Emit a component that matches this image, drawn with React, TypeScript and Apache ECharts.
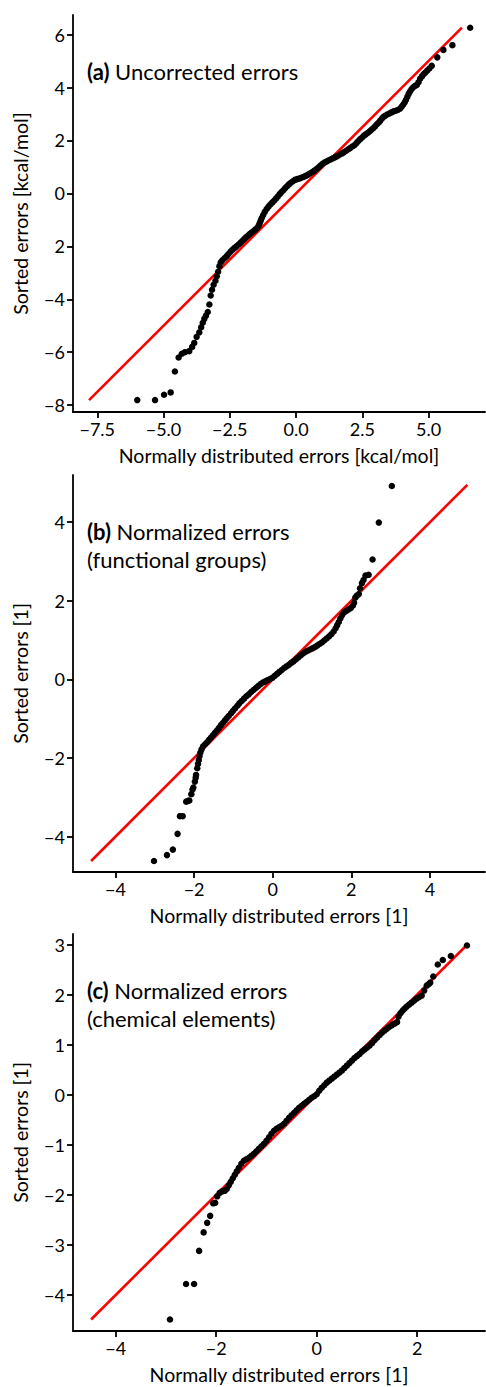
import React, { useEffect, useRef } from "react";
import * as echarts from "echarts";

// (a) uncorrected errors: theoretical normal quantiles vs. sorted errors [kcal/mol]
const theoA = [
  -5.99, -5.32, -4.98, -4.73, -4.57, -4.43, -4.31, -4.19, -4.03, -3.92, -3.84, -3.75, -3.65, -3.58,
  -3.52, -3.46, -3.4, -3.33, -3.27, -3.22, -3.17, -3.11, -3.04, -2.99, -2.94, -2.89, -2.84,
  -2.78, -2.7, -2.62, -2.55, -2.47, -2.4, -2.33, -2.26, -2.18, -2.1, -2.03, -1.96, -1.89, -1.82,
  -1.75, -1.68, -1.61, -1.54, -1.47, -1.41, -1.37, -1.33, -1.29, -1.24, -1.18, -1.11, -1.04,
  -0.97, -0.9, -0.83, -0.76, -0.69, -0.62, -0.55, -0.48, -0.41, -0.34, -0.27, -0.2, -0.12, -0.04,
  0.04, 0.12, 0.2, 0.28, 0.36, 0.44, 0.52, 0.6, 0.68, 0.76, 0.84, 0.92, 1.0, 1.08, 1.16, 1.24,
  1.32, 1.4, 1.48, 1.56, 1.64, 1.72, 1.8, 1.88, 1.96, 2.04, 2.12, 2.2, 2.28, 2.35, 2.42, 2.49,
  2.56, 2.63, 2.7, 2.77, 2.84, 2.91, 2.98, 3.05, 3.12, 3.18, 3.24, 3.3, 3.36, 3.44, 3.52, 3.6,
  3.68, 3.76, 3.84, 3.92, 3.98, 4.04, 4.1, 4.15, 4.2, 4.25, 4.3, 4.36, 4.42, 4.49, 4.56,
  4.62, 4.68, 4.75, 4.81, 4.87, 4.95, 5.03, 5.12, 5.33, 5.56, 5.9, 6.57,
];
const sortedA = [
  -7.81, -7.81, -7.61, -7.52, -6.73, -6.2, -6.06, -6.0, -5.96, -5.8, -5.65, -5.42, -5.25, -5.06,
  -4.89, -4.74, -4.62, -4.48, -4.2, -3.86, -3.64, -3.45, -3.3, -3.13, -2.96, -2.75, -2.6,
  -2.53, -2.45, -2.38, -2.29, -2.2, -2.13, -2.07, -2.01, -1.94, -1.87, -1.8, -1.73, -1.66, -1.6,
  -1.54, -1.48, -1.43, -1.37, -1.31, -1.22, -1.12, -1.02, -0.92, -0.82, -0.7, -0.59, -0.5,
  -0.42, -0.35, -0.28, -0.2, -0.12, -0.03, 0.05, 0.12, 0.2, 0.27, 0.34, 0.4, 0.46, 0.51,
  0.54, 0.56, 0.59, 0.62, 0.66, 0.7, 0.75, 0.8, 0.85, 0.91, 0.98, 1.05, 1.12, 1.17, 1.21, 1.25,
  1.29, 1.33, 1.37, 1.41, 1.46, 1.5, 1.55, 1.6, 1.66, 1.71, 1.77, 1.82, 1.9, 1.98, 2.05, 2.11,
  2.18, 2.23, 2.28, 2.34, 2.4, 2.46, 2.53, 2.61, 2.68, 2.75, 2.83, 2.89, 2.93, 2.98, 3.02, 3.06,
  3.1, 3.12, 3.15, 3.2, 3.27, 3.35, 3.44, 3.54, 3.65, 3.76, 3.85, 3.94, 4.01, 4.06, 4.1,
  4.2, 4.33, 4.42, 4.5, 4.56, 4.64, 4.72, 4.82, 5.14, 5.42, 5.6, 6.26,
];

// (b) errors normalized per functional group
const theoB = [
  -3.02, -2.69, -2.54, -2.42, -2.36, -2.29, -2.2, -2.15, -2.12, -2.07, -2.04, -2.02, -1.98, -1.96,
  -1.95, -1.92, -1.9, -1.88, -1.86, -1.84, -1.81,
  -1.77, -1.72, -1.67, -1.62, -1.57, -1.52, -1.47, -1.42, -1.37, -1.32, -1.27, -1.22, -1.17,
  -1.12, -1.06, -1.01, -0.96, -0.9, -0.85, -0.79, -0.73, -0.67, -0.61, -0.55, -0.49, -0.43,
  -0.37, -0.31, -0.25, -0.19, -0.13, -0.07, -0.01, 0.05, 0.11, 0.17, 0.23, 0.29, 0.35, 0.41,
  0.47, 0.53, 0.59, 0.65, 0.71, 0.77, 0.83, 0.89, 0.95, 1.01, 1.07, 1.13, 1.19, 1.25, 1.31,
  1.37, 1.43, 1.49, 1.55, 1.6, 1.64, 1.68, 1.72, 1.76, 1.81, 1.87, 1.93, 1.99, 2.04, 2.07,
  2.1, 2.14, 2.19, 2.22, 2.27, 2.31, 2.36, 2.44, 2.54, 2.7, 3.03,
];
const sortedB = [
  -4.62, -4.47, -4.33, -3.93, -3.48, -3.48, -3.11, -3.09, -3.08, -2.92, -2.8, -2.75, -2.6, -2.5,
  -2.43, -2.26, -2.15, -2.05, -1.95, -1.86, -1.78,
  -1.7, -1.65, -1.6, -1.54, -1.48, -1.42, -1.36, -1.3, -1.24, -1.17, -1.11, -1.05, -0.99,
  -0.93, -0.86, -0.8, -0.74, -0.67, -0.61, -0.55, -0.49, -0.43, -0.38, -0.32, -0.27, -0.22,
  -0.17, -0.12, -0.08, -0.05, -0.02, 0.01, 0.04, 0.09, 0.14, 0.19, 0.24, 0.29, 0.33, 0.37,
  0.42, 0.46, 0.51, 0.56, 0.61, 0.66, 0.7, 0.73, 0.76, 0.79, 0.82, 0.86, 0.9, 0.94, 0.99,
  1.04, 1.09, 1.15, 1.22, 1.3, 1.38, 1.46, 1.55, 1.63, 1.7, 1.74, 1.78, 1.82, 1.88, 1.95,
  2.08, 2.13, 2.17, 2.32, 2.45, 2.53, 2.64, 2.66, 3.05, 3.99, 4.92,
];

// (c) errors normalized per chemical element
const theoC = [
  -2.92, -2.6, -2.44, -2.34, -2.25, -2.18, -2.12, -2.06, -2.02, -1.98,
  -1.93, -1.88, -1.83, -1.79, -1.75, -1.71, -1.67, -1.63, -1.59, -1.55, -1.5, -1.45, -1.4,
  -1.35, -1.3, -1.25, -1.2, -1.15, -1.1, -1.05, -1.0, -0.95, -0.9, -0.85, -0.8, -0.75, -0.7,
  -0.65, -0.6, -0.55, -0.5, -0.45, -0.4, -0.35, -0.3, -0.25, -0.2, -0.15, -0.1, -0.05, 0.0,
  0.05, 0.1, 0.15, 0.2, 0.25, 0.3, 0.35, 0.4, 0.45, 0.5, 0.55, 0.6, 0.65, 0.7, 0.75, 0.8,
  0.85, 0.9, 0.95, 1.0, 1.05, 1.1, 1.15, 1.2, 1.25, 1.3, 1.35, 1.4, 1.45, 1.5, 1.55, 1.6,
  1.63, 1.67, 1.71, 1.75, 1.79, 1.84, 1.89, 1.94, 1.99, 2.04, 2.09,
  2.14, 2.19, 2.23, 2.26, 2.32, 2.41, 2.51, 2.67, 2.99,
];
const sortedC = [
  -4.49, -3.78, -3.78, -3.12, -2.75, -2.56, -2.42, -2.17, -2.16, -2.03,
  -1.96, -1.93, -1.92, -1.88, -1.81, -1.74, -1.67, -1.6, -1.53, -1.46, -1.38, -1.32, -1.29,
  -1.26, -1.22, -1.18, -1.13, -1.08, -1.03, -0.98, -0.92, -0.85, -0.78, -0.72, -0.68, -0.65,
  -0.62, -0.58, -0.52, -0.46, -0.41, -0.36, -0.31, -0.26, -0.22, -0.18, -0.14, -0.1, -0.06,
  -0.03, 0.01, 0.08, 0.14, 0.19, 0.24, 0.28, 0.32, 0.36, 0.4, 0.44, 0.48, 0.53, 0.58, 0.63,
  0.68, 0.73, 0.77, 0.81, 0.86, 0.9, 0.94, 0.98, 1.03, 1.09, 1.14, 1.19, 1.24, 1.28, 1.32,
  1.36, 1.39, 1.42, 1.45, 1.56, 1.63, 1.68, 1.72, 1.76, 1.8, 1.84, 1.88, 1.92, 1.95, 1.98,
  2.08, 2.18, 2.21, 2.24, 2.36, 2.6, 2.69, 2.77, 2.98,
];

// 45-degree reference lines (from the lowest to the highest sorted error)
const refLineA = [-7.81, 6.26];
const refLineB = [-4.62, 4.95];
const refLineC = [-4.49, 2.96];

// tick values and their printed labels
const xTicksA = [-7.5, -5, -2.5, 0, 2.5, 5];
const xLabelsA = ["\u22127.5", "\u22125.0", "\u22122.5", "0.0", "2.5", "5.0"];
const yTicksA = [-8, -6, -4, -2, 0, 2, 4, 6];
const yLabelsA = ["\u22128", "\u22126", "\u22124", "2", "0", "2", "4", "6"];
const xTicksB = [-4, -2, 0, 2, 4];
const xLabelsB = ["\u22124", "\u22122", "0", "2", "4"];
const yTicksB = [-4, -2, 0, 2, 4];
const yLabelsB = ["\u22124", "\u22122", "0", "2", "4"];
const xTicksC = [-4, -2, 0, 2];
const xLabelsC = ["\u22124", "\u22122", "0", "2"];
const yTicksC = [-4, -3, -2, -1, 0, 1, 2, 3];
const yLabelsC = ["\u22124", "\u22123", "\u22122", "\u22121", "0", "1", "2", "3"];

const FONT = "Lato";
const TICK_SIZE = 18;
const NAME_SIZE = 19.5;
const NOTE_SIZE = 22;

type Panel = {
  theo: number[];
  sorted: number[];
  ref: number[];
  xTicks: number[];
  xLabels: string[];
  yTicks: number[];
  yLabels: string[];
  xRange: [number, number];
  yRange: [number, number];
  top: number;
  xName: string;
  yName: string;
  tag: string;
  note: string[];
};

const panels: Panel[] = [
  {
    theo: theoA, sorted: sortedA, ref: refLineA,
    xTicks: xTicksA, xLabels: xLabelsA, yTicks: yTicksA, yLabels: yLabelsA,
    xRange: [-8.415, 7.13], yRange: [-8.26, 6.74], top: 15,
    xName: "Normally distributed errors [kcal/mol]", yName: "Sorted errors [kcal/mol]",
    tag: "(a)", note: ["Uncorrected errors"],
  },
  {
    theo: theoB, sorted: sortedB, ref: refLineB,
    xTicks: xTicksB, xLabels: xLabelsB, yTicks: yTicksB, yLabels: yLabelsB,
    xRange: [-5.08, 5.4], yRange: [-4.9, 5.2], top: 475,
    xName: "Normally distributed errors [1]", yName: "Sorted errors [1]",
    tag: "(b)", note: ["Normalized errors", "(functional groups)"],
  },
  {
    theo: theoC, sorted: sortedC, ref: refLineC,
    xTicks: xTicksC, xLabels: xLabelsC, yTicks: yTicksC, yLabels: yLabelsC,
    xRange: [-4.85, 3.35], yRange: [-4.72, 3.21], top: 934,
    xName: "Normally distributed errors [1]", yName: "Sorted errors [1]",
    tag: "(c)", note: ["Normalized errors", "(chemical elements)"],
  },
];

const GRID_LEFT = 73;
const GRID_WIDTH = 412;
const GRID_HEIGHT = 397;

const labelFor = (ticks: number[], labels: string[]) => (v: number) => {
  const i = ticks.findIndex((t) => Math.abs(t - v) < 1e-6);
  return i >= 0 ? labels[i] : "";
};

const axisCommon = (ticks: number[], labels: string[]) => ({
  type: "value" as const,
  axisLine: { show: true, onZero: false, lineStyle: { color: "#000", width: 1.8 } },
  axisTick: {
    show: true,
    length: 6,
    customValues: ticks,
    lineStyle: { color: "#000", width: 1.8 },
  },
  axisLabel: {
    customValues: ticks,
    formatter: labelFor(ticks, labels),
    margin: 8,
    fontFamily: FONT,
    fontSize: TICK_SIZE,
    color: "#000",
  },
  splitLine: { show: false },
  nameLocation: "middle" as const,
  nameTextStyle: { fontFamily: FONT, fontSize: NAME_SIZE, color: "#000" },
});

export default function App() {
  const ref = useRef<HTMLDivElement>(null);

  useEffect(() => {
    if (!ref.current) return;
    const chart = echarts.init(ref.current, null, { renderer: "svg" });

    const grid = panels.map((p) => ({
      left: GRID_LEFT,
      top: p.top,
      width: GRID_WIDTH,
      height: GRID_HEIGHT,
    }));

    const xAxis = panels.map((p, i) => ({
      ...axisCommon(p.xTicks, p.xLabels),
      gridIndex: i,
      min: p.xRange[0],
      max: p.xRange[1],
      name: p.xName,
      nameGap: 33,
    }));

    const yAxis = panels.map((p, i) => ({
      ...axisCommon(p.yTicks, p.yLabels),
      gridIndex: i,
      min: p.yRange[0],
      max: p.yRange[1],
      name: p.yName,
      nameGap: 43,
    }));

    const series: any[] = [];
    panels.forEach((p, i) => {
      series.push({
        type: "line",
        xAxisIndex: i,
        yAxisIndex: i,
        data: [
          [p.ref[0], p.ref[0]],
          [p.ref[1], p.ref[1]],
        ],
        symbol: "none",
        lineStyle: { color: "#ff0000", width: 2.6 },
        clip: false,
        z: 2,
        silent: true,
      });
      series.push({
        type: "scatter",
        xAxisIndex: i,
        yAxisIndex: i,
        data: p.theo.map((x, k) => [x, p.sorted[k]]),
        symbol: "circle",
        symbolSize: 6.5,
        itemStyle: { color: "#000", opacity: 1 },
        clip: false,
        z: 3,
        silent: true,
      });
    });

    const graphic = panels.map((p) => ({
      type: "text",
      left: 87,
      top: p.top + 42,
      style: {
        text: `{b|${p.tag}} ${p.note.join("\n")}`,
        rich: {
          b: { fontWeight: "bold", fontFamily: FONT, fontSize: NOTE_SIZE, fill: "#000" },
        },
        fontFamily: FONT,
        fontSize: NOTE_SIZE,
        lineHeight: 28,
        fill: "#000",
      },
    }));

    chart.setOption({
      animation: false,
      backgroundColor: "#fff",
      grid,
      xAxis,
      yAxis,
      series,
      graphic,
    });

    return () => chart.dispose();
  }, []);

  return (
    <div
      ref={ref}
      style={{ position: "absolute", left: 0, top: 0, width: 486, height: 1387 }}
    />
  );
}
